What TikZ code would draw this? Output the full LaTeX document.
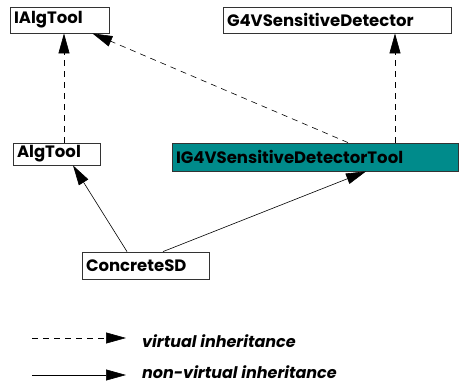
\documentclass[tikz,border=0pt]{standalone}
\usepackage{fontspec}
\setmainfont{Poppins}
\usetikzlibrary{arrows.meta,calc}
\definecolor{tealfill}{RGB}{0,139,139}
\begin{document}
\begin{tikzpicture}[x=1pt,y=-1pt,
  box/.style={draw=black!80, line width=0.8pt, inner xsep=4pt, inner ysep=0pt, align=left,
    font=\fontsize{16.5}{18}\selectfont\bfseries, anchor=center},
  legtext/.style={font=\fontsize{16}{18}\selectfont\bfseries\itshape, anchor=west, inner sep=0pt},
  tip/.style={-{Triangle[length=20pt,width=11pt]}},
  virt/.style={tip, dash pattern=on 6pt off 5pt, line width=0.6pt},
  nonvirt/.style={tip, line width=0.6pt}]
\useasboundingbox (0,0) rectangle (459,385);
\node[box, text width=91pt, minimum height=26pt] (ialg) at (59.5,20) {IAlgTool};
\node[box, text width=220pt, minimum height=26pt] (g4v) at (337,20) {G4VSensitiveDetector};
\node[box, text width=79pt, minimum height=22pt] (alg) at (56.5,154) {AlgTool};
\node[box, fill=tealfill, text width=278pt, minimum height=28pt] (ig4v) at (315,157) {IG4VSensitiveDetectorTool};
\node[box, text width=119pt, minimum height=27pt] (csd) at (145.5,265.5) {ConcreteSD};
\draw[virt] ([xshift=7.5pt]alg.north) -- ([xshift=4.5pt]ialg.south);
\draw[virt] ([xshift=33pt]ig4v.north) -- ([xshift=-17pt]ialg.south east);
\draw[virt] ([xshift=80pt]ig4v.north) -- ([xshift=58pt]g4v.south);
\draw[nonvirt] ([xshift=-18.5pt]csd.north) -- ([xshift=16.5pt]alg.south);
\draw[nonvirt] ([xshift=17.5pt]csd.north) -- ([xshift=51pt]ig4v.south);
\coordinate (v1) at (32,338);
\coordinate (v2) at (126,338);
\coordinate (n1) at (32,375);
\coordinate (n2) at (126,375);
\node[legtext] (vt) at (142,341) {virtual inheritance};
\node[legtext] (nt) at (142,372) {non-virtual inheritance};
\draw[virt] (v1) -- (v2);
\draw[nonvirt] (n1) -- (n2);
\end{tikzpicture}
\end{document}
